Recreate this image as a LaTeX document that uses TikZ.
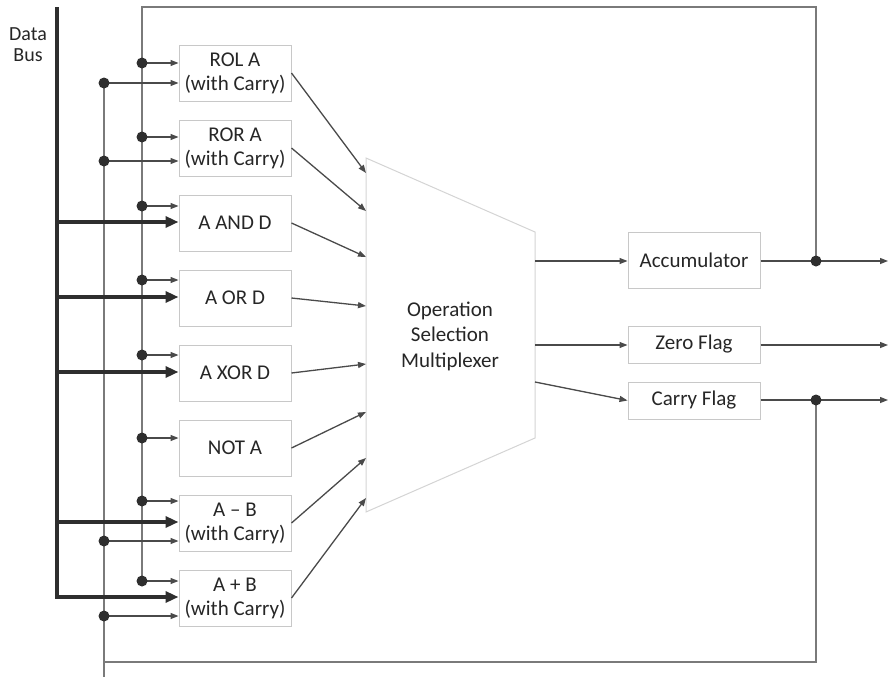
\documentclass[tikz,border=0pt]{standalone}
\usepackage{fontspec}
\setmainfont{Carlito}
\usetikzlibrary{arrows.meta,calc}
\definecolor{ink}{HTML}{2E2E2E}
\definecolor{txt}{HTML}{262626}
\definecolor{wire}{HTML}{4A4A4A}
\definecolor{loopgray}{HTML}{7A7A7A}
\definecolor{frame}{HTML}{C8C8C8}
\definecolor{muxframe}{HTML}{D4D4D4}
\begin{document}
\begin{tikzpicture}[x=1pt,y=-1pt,
  font=\fontsize{21}{24}\selectfont, text=txt,
  opbox/.style={draw=frame, line width=1pt, minimum width=112pt, minimum height=56pt, inner sep=0pt, align=center},
  regbox/.style={draw=frame, line width=1pt, minimum width=132pt, inner sep=0pt},
  thinarrow/.style={draw=wire, line width=1.3pt, -{Triangle[length=8pt,width=6pt]}},
  busarrow/.style={draw=ink, line width=3.4pt, -{Triangle[length=13pt,width=11pt]}},
  fbline/.style={draw=loopgray, line width=1.8pt},
  junction/.style={circle, fill=ink, inner sep=0pt, minimum size=11pt},
]
\useasboundingbox (0,0) rectangle (889,678);

% ---- label of the bus
\node[align=center, font=\fontsize{20}{21}\selectfont] (buslabel) at (28,45) {Data\\Bus};

% ---- operation boxes
\node[opbox] (rol) at (235,73)  {ROL A\\(with Carry)};
\node[opbox] (ror) at (235,148) {ROR A\\(with Carry)};
\node[opbox] (and) at (235,223) {A AND D};
\node[opbox] (or)  at (235,298) {A OR D};
\node[opbox] (xor) at (235,373) {A XOR D};
\node[opbox] (not) at (235,448) {NOT A};
\node[opbox] (sub) at (235,523) {A -- B\\(with Carry)};
\node[opbox] (add) at (235,598) {A + B\\(with Carry)};

% ---- multiplexer
\coordinate (mtl) at (366,158);
\coordinate (mtr) at (535,232);
\coordinate (mbr) at (535,438);
\coordinate (mbl) at (366,512);
\draw[draw=muxframe, line width=1pt, fill=white] (mtl) -- (mtr) -- (mbr) -- (mbl) -- cycle;
\node[align=center, font=\fontsize{21}{25.5}\selectfont] (mux) at (450,336) {Operation\\Selection\\Multiplexer};

% ---- registers
\node[regbox, minimum height=56pt] (acc)   at (694,260)   {Accumulator};
\node[regbox, minimum height=37pt] (zero)  at (694,344.5) {Zero Flag};
\node[regbox, minimum height=37pt] (carry) at (694,400.5) {Carry Flag};

% ---- junction points
\coordinate (aTop)  at (142,7);
\coordinate (aBot)  at (142,581);
\coordinate (cTop)  at (104,83);
\coordinate (cBot)  at (104,677);
\coordinate (cRet)  at (104,662);
\coordinate (accJ)  at (816,261);
\coordinate (carJ)  at (816,400);

% feedback of the accumulator (A) and of the carry flag
\draw[fbline] (accJ) -- (accJ |- aTop) -- (aTop) -- (aBot);
\draw[fbline] (carJ) -- (carJ |- cRet) -- (cRet);
\draw[fbline] (cTop) -- (cBot);

% ---- A inputs
\foreach \bx/\yy in {rol/63, ror/137, and/206, or/280, xor/355, not/438, sub/501, add/581}{
  \coordinate (a-\bx) at (142,\yy);
  \draw[thinarrow] (a-\bx) -- (\bx.west |- a-\bx);
}
% ---- carry inputs
\foreach \bx/\yy in {rol/83, ror/161, sub/541, add/616}{
  \coordinate (c-\bx) at (104,\yy);
  \draw[thinarrow] (c-\bx) -- (\bx.west |- c-\bx);
}

% ---- data bus
\coordinate (busTop) at (57,7);
\coordinate (busEnd) at (57,597);
\draw[busarrow] (busTop) -- (busEnd) -- (add.west |- busEnd);
\foreach \bx/\yy in {and/222, or/297, xor/372, sub/522}{
  \coordinate (d-\bx) at (57,\yy);
  \draw[busarrow] (d-\bx) -- (\bx.west |- d-\bx);
}

% ---- multiplexer inputs
\foreach \bx/\yy in {rol/173, ror/211, and/257, or/306, xor/364, not/412, sub/458, add/498}{
  \coordinate (m-\bx) at (366,\yy);
  \draw[thinarrow] (\bx.east) -- (m-\bx);
}

% ---- multiplexer outputs
\coordinate (mAcc)   at (535,261);
\coordinate (mZero)  at (535,345);
\coordinate (mCarry) at (535,382);
\draw[thinarrow] (mAcc) -- (acc.west |- mAcc);
\draw[thinarrow] (mZero) -- (zero.west |- mZero);
\draw[thinarrow] (mCarry) -- (carry.west);

% ---- register outputs
\coordinate (oAcc)   at (888,261);
\coordinate (oZero)  at (888,345);
\coordinate (oCarry) at (888,400);
\draw[thinarrow] (acc.east |- oAcc) -- (oAcc);
\draw[thinarrow] (zero.east |- oZero) -- (oZero);
\draw[thinarrow] (carry.east |- oCarry) -- (oCarry);

% ---- junction dots
\foreach \p in {a-rol, a-ror, a-and, a-or, a-xor, a-not, a-sub, a-add,
                c-rol, c-ror, c-sub, c-add, accJ, carJ}{
  \node[junction] at (\p) {};
}
\end{tikzpicture}
\end{document}
